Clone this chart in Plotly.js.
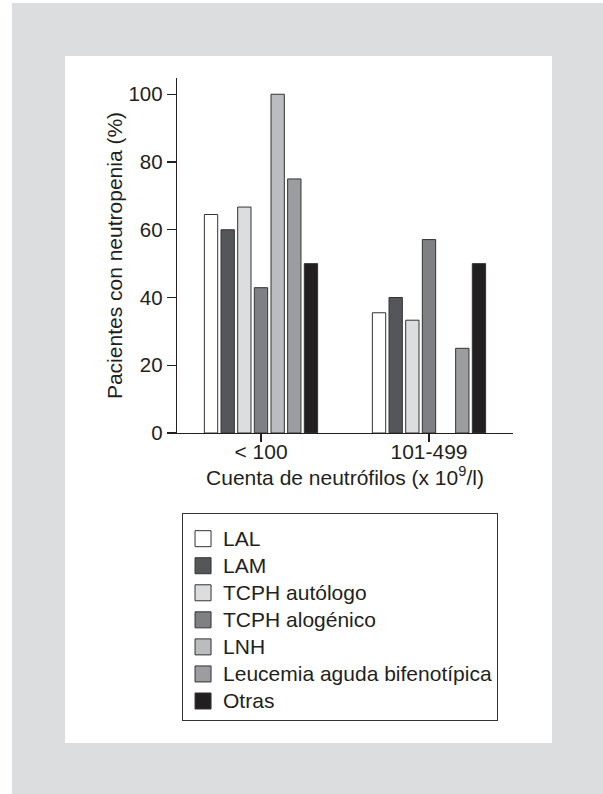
<!DOCTYPE html>
<html>
<head>
<meta charset="utf-8">
<script src="https://cdn.plot.ly/plotly-3.0.1.min.js"></script>
<style>
  html, body { margin: 0; padding: 0; background: #ffffff; width: 603px; height: 794px; overflow: hidden; }
  #outer { position: absolute; left: 12px; top: 3px; width: 591px; height: 791px; background: #dcdddf; }
  #panel { position: absolute; left: 53px; top: 53px; width: 487px; height: 687px; background: #ffffff; }
  #chart { position: absolute; left: 0; top: 0; width: 487px; height: 687px; }
</style>
</head>
<body>
<div id="outer"><div id="panel"><div id="chart"></div></div></div>
<script>
const categories = ['< 100', '101-499'];
const seriesNames = ['LAL', 'LAM', 'TCPH autólogo', 'TCPH alogénico', 'LNH', 'Leucemia aguda bifenotípica', 'Otras'];
const seriesColors = ['#ffffff', '#555659', '#dcdddf', '#7f8084', '#bbbcbf', '#9c9da0', '#231f20'];
const valLAL = [64.5, 35.5];
const valLAM = [60, 40];
const valTCPHauto = [66.7, 33.3];
const valTCPHalo = [42.9, 57.1];
const valLNH = [100, null];
const valLeucemia = [75, 25];
const valOtras = [50, 50];
const seriesValues = [valLAL, valLAM, valTCPHauto, valTCPHalo, valLNH, valLeucemia, valOtras];
const yTicks = [0, 20, 40, 60, 80, 100];

const FONT = '"Liberation Sans", Arial, Helvetica, sans-serif';
const INK = '#231f20';
const EDGE = '#333333';

// bars (drawn through the category axis)
const barTraces = seriesNames.map((name, i) => ({
  type: 'bar',
  name: name,
  legendgroup: name,
  showlegend: false,
  x: categories,
  y: seriesValues[i],
  marker: { color: seriesColors[i], line: { color: EDGE, width: 1 } },
  hoverinfo: 'none'
}));

// legend entries (larger square swatches like the reference)
const legendTraces = seriesNames.map((name, i) => ({
  type: 'scatter',
  mode: 'markers',
  name: '<span style="font-size:21px">' + name + '</span>',
  legendgroup: name,
  x: [null],
  y: [null],
  marker: { symbol: 'square', size: 16, color: seriesColors[i], line: { color: EDGE, width: 1 } },
  hoverinfo: 'none'
}));

const layout = {
  width: 487,
  height: 687,
  margin: { l: 112, r: 39, t: 22, b: 310, pad: 0 },
  paper_bgcolor: 'rgba(0,0,0,0)',
  plot_bgcolor: 'rgba(0,0,0,0)',
  font: { family: FONT, size: 21, color: INK },
  barmode: 'group',
  bargap: 0.306,
  bargroupgap: 0.2,
  showlegend: true,
  legend: {
    x: 0.015, xanchor: 'left',
    y: -0.2244, yanchor: 'top',
    bordercolor: EDGE, borderwidth: 1,
    bgcolor: '#ffffff',
    font: { family: FONT, size: 18.5, color: INK },
    title: { text: ' ', font: { family: FONT, size: 5, color: INK } },
    traceorder: 'normal',
    tracegroupgap: 0,
    itemsizing: 'trace',
    entrywidthmode: 'pixels',
    entrywidth: 276
  },
  xaxis: {
    type: 'category',
    range: [-0.5, 1.5],
    showline: true, linecolor: INK, linewidth: 1.3,
    ticks: 'outside', ticklen: 8, tickwidth: 1.3, tickcolor: INK,
    showgrid: false, zeroline: false,
    automargin: true,
    ticklabelstandoff: -9,
    tickfont: { family: FONT, size: 21, color: INK },
    title: { text: 'Cuenta de neutrófilos (x 10<sup>9</sup>/l)', font: { family: FONT, size: 21, color: INK }, standoff: 8 }
  },
  yaxis: {
    range: [0, 104.8],
    tickvals: yTicks,
    ticktext: yTicks.map(String),
    showline: true, linecolor: INK, linewidth: 1.3,
    ticks: 'outside', ticklen: 9, tickwidth: 1.3, tickcolor: INK,
    showgrid: false, zeroline: false,
    automargin: true,
    tickfont: { family: FONT, size: 20.5, color: INK },
    title: { text: 'Pacientes con neutropenia (%)', font: { family: FONT, size: 21, color: INK }, standoff: 0 }
  }
};

Plotly.newPlot('chart', barTraces.concat(legendTraces), layout, { staticPlot: true, displayModeBar: false });
</script>
</body>
</html>
